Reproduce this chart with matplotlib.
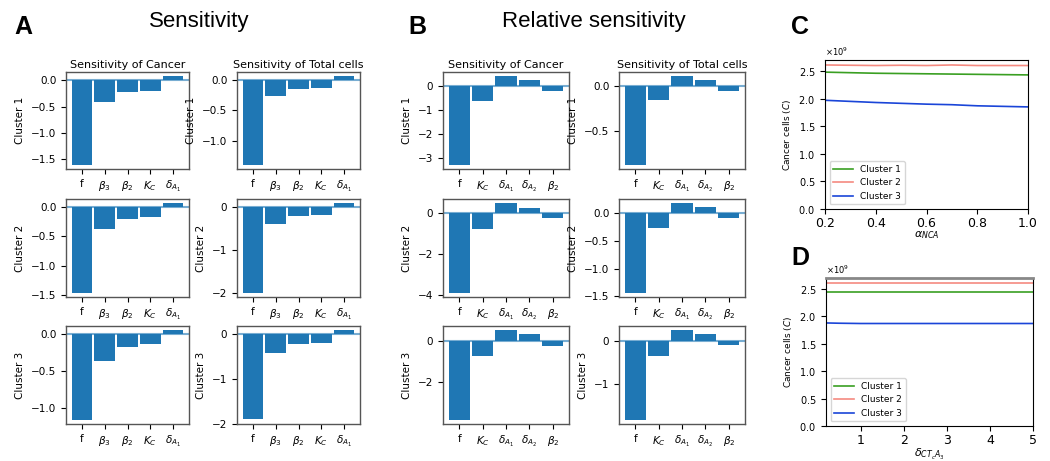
import numpy as np
import matplotlib
matplotlib.use("Agg")
import matplotlib.pyplot as plt
from matplotlib.ticker import ScalarFormatter

# ---- data ----
clusters = ["Cluster 1", "Cluster 2", "Cluster 3"]

labels_abs = ["f", r"$\beta_3$", r"$\beta_2$", r"$K_C$", r"$\delta_{A_1}$"]
sens_cancer = [
    [-1.60, -0.42, -0.22, -0.20, 0.07],
    [-1.45, -0.38, -0.21, -0.17, 0.06],
    [-1.15, -0.36, -0.18, -0.14, 0.045],
]
sens_total = [
    [-1.40, -0.26, -0.14, -0.13, 0.066],
    [-1.98, -0.40, -0.21, -0.19, 0.085],
    [-1.90, -0.43, -0.23, -0.21, 0.075],
]

labels_rel = ["f", r"$K_C$", r"$\delta_{A_1}$", r"$\delta_{A_2}$", r"$\beta_2$"]
rel_cancer = [
    [-3.29, -0.64, 0.38, 0.23, -0.21],
    [-3.87, -0.77, 0.47, 0.27, -0.24],
    [-3.81, -0.72, 0.50, 0.35, -0.24],
]
rel_total = [
    [-0.863, -0.16, 0.10, 0.061, -0.054],
    [-1.43, -0.27, 0.17, 0.10, -0.09],
    [-1.84, -0.36, 0.24, 0.15, -0.10],
]

# y ticks shown on each bar panel (column -> row)
yticks_bars = [
    [[0, -0.5, -1.0, -1.5], [0, -0.5, -1.0, -1.5], [0, -0.5, -1.0]],
    [[0, -0.5, -1.0], [0, -1, -2], [0, -1, -2]],
    [[0, -1, -2, -3], [0, -2, -4], [0, -2]],
    [[0, -0.5], [0, -0.5, -1.0, -1.5], [0, -1]],
]

alpha_nca = [0.2, 0.3, 0.4, 0.5, 0.6, 0.7, 0.8, 0.9, 1.0]
c_alpha_1 = [2.48, 2.47, 2.46, 2.455, 2.45, 2.445, 2.44, 2.435, 2.43]
c_alpha_2 = [2.61, 2.605, 2.60, 2.605, 2.60, 2.61, 2.60, 2.60, 2.60]
c_alpha_3 = [1.97, 1.95, 1.93, 1.915, 1.90, 1.89, 1.87, 1.86, 1.85]

delta_cta3 = [0.2, 0.5, 1.0, 1.5, 2.0, 3.0, 4.0, 5.0]
c_delta_1 = [2.445, 2.445, 2.445, 2.445, 2.445, 2.445, 2.445, 2.445]
c_delta_2 = [2.60, 2.60, 2.60, 2.60, 2.60, 2.60, 2.60, 2.60]
c_delta_3 = [1.88, 1.875, 1.87, 1.87, 1.87, 1.87, 1.87, 1.87]

line_colors = ["#3a9f22", "#f58a80", "#1a45d8"]

fig = plt.figure(figsize=(10.5, 4.61), dpi=100)

W, H = 1050, 461


def px_axes(x0, y0, x1, y1):
    return fig.add_axes([x0 / W, 1 - y1 / H, (x1 - x0) / W, (y1 - y0) / H])


def bar_panel(ax, vals, labels, yticks, title=None, ylabel=None):
    x = np.arange(len(vals))
    ax.bar(x, vals, width=0.9, color="#1f77b4")
    ax.axhline(0, color="#1f77b4", alpha=0.6, lw=1.5)
    ax.set_xticks(x)
    ax.set_xticklabels(labels, fontsize=7.5)
    ax.set_yticks(yticks)
    ax.tick_params(axis="y", labelsize=7.5)
    ax.tick_params(axis="x", pad=4)
    for s in ax.spines.values():
        s.set_color("#555555")
        s.set_linewidth(1.0)
    if title:
        ax.set_title(title, fontsize=8, pad=3)
    if ylabel:
        ax.set_ylabel(ylabel, fontsize=7.5)


rows = [(72, 169), (199, 297), (326, 424)]
cols = [(66, 189), (237, 360), (443, 569), (619, 745)]
datasets = [
    (sens_cancer, labels_abs, "Sensitivity of Cancer"),
    (sens_total, labels_abs, "Sensitivity of Total cells"),
    (rel_cancer, labels_rel, "Sensitivity of Cancer"),
    (rel_total, labels_rel, "Sensitivity of Total cells"),
]
for ci, (x0, x1) in enumerate(cols):
    data, labs, ttl = datasets[ci]
    for ri, (y0, y1) in enumerate(rows):
        ax = px_axes(x0, y0, x1, y1)
        bar_panel(ax, data[ri], labs, yticks_bars[ci][ri],
                  title=ttl if ri == 0 else None,
                  ylabel=clusters[ri])


def line_panel(ax, xs, ys_list, xlabel, xlim):
    for ys, c, lab in zip(ys_list, line_colors, clusters):
        ax.plot(xs, np.array(ys) * 1e9, color=c, lw=1.2, label=lab)
    ax.set_xlim(*xlim)
    ax.set_ylim(0, 2.7e9)
    fmt = ScalarFormatter(useMathText=True)
    ax.yaxis.set_major_formatter(fmt)
    ax.tick_params(axis="x", labelsize=9, pad=2)
    ax.tick_params(axis="y", labelsize=7)
    ax.yaxis.get_offset_text().set_fontsize(6)
    ax.set_ylabel(r"Cancer cells ($C$)", fontsize=6.5)
    ax.set_xlabel(xlabel, fontsize=8, labelpad=0)
    ax.legend(loc="lower left", fontsize=6.5, handlelength=2.2)


axc = px_axes(825, 60, 1028, 209)
line_panel(axc, alpha_nca, [c_alpha_1, c_alpha_2, c_alpha_3],
           r"$\alpha_{NCA}$", (0.2, 1.0))

axd = px_axes(826, 278, 1033, 426)
line_panel(axd, delta_cta3, [c_delta_1, c_delta_2, c_delta_3],
           r"$\delta_{CT_cA_3}$", (0.2, 5.0))
axd.spines["top"].set_color("#888888")
axd.spines["top"].set_linewidth(2)

head = dict(family="Liberation Sans", fontweight="bold", fontsize=18,
            va="center", ha="left")
fig.text(14 / W, 1 - 27 / H, "A", **head)
fig.text(408 / W, 1 - 27 / H, "B", **head)
fig.text(791 / W, 1 - 27 / H, "C", **head)
fig.text(791 / W, 1 - 258 / H, "D", **head)

sub = dict(family="Liberation Sans", fontsize=16, va="center", ha="center")
fig.text(199 / W, 1 - 22 / H, "Sensitivity", **sub)
fig.text(594 / W, 1 - 22 / H, "Relative sensitivity", **sub)

fig.savefig("out.png", dpi=100)
